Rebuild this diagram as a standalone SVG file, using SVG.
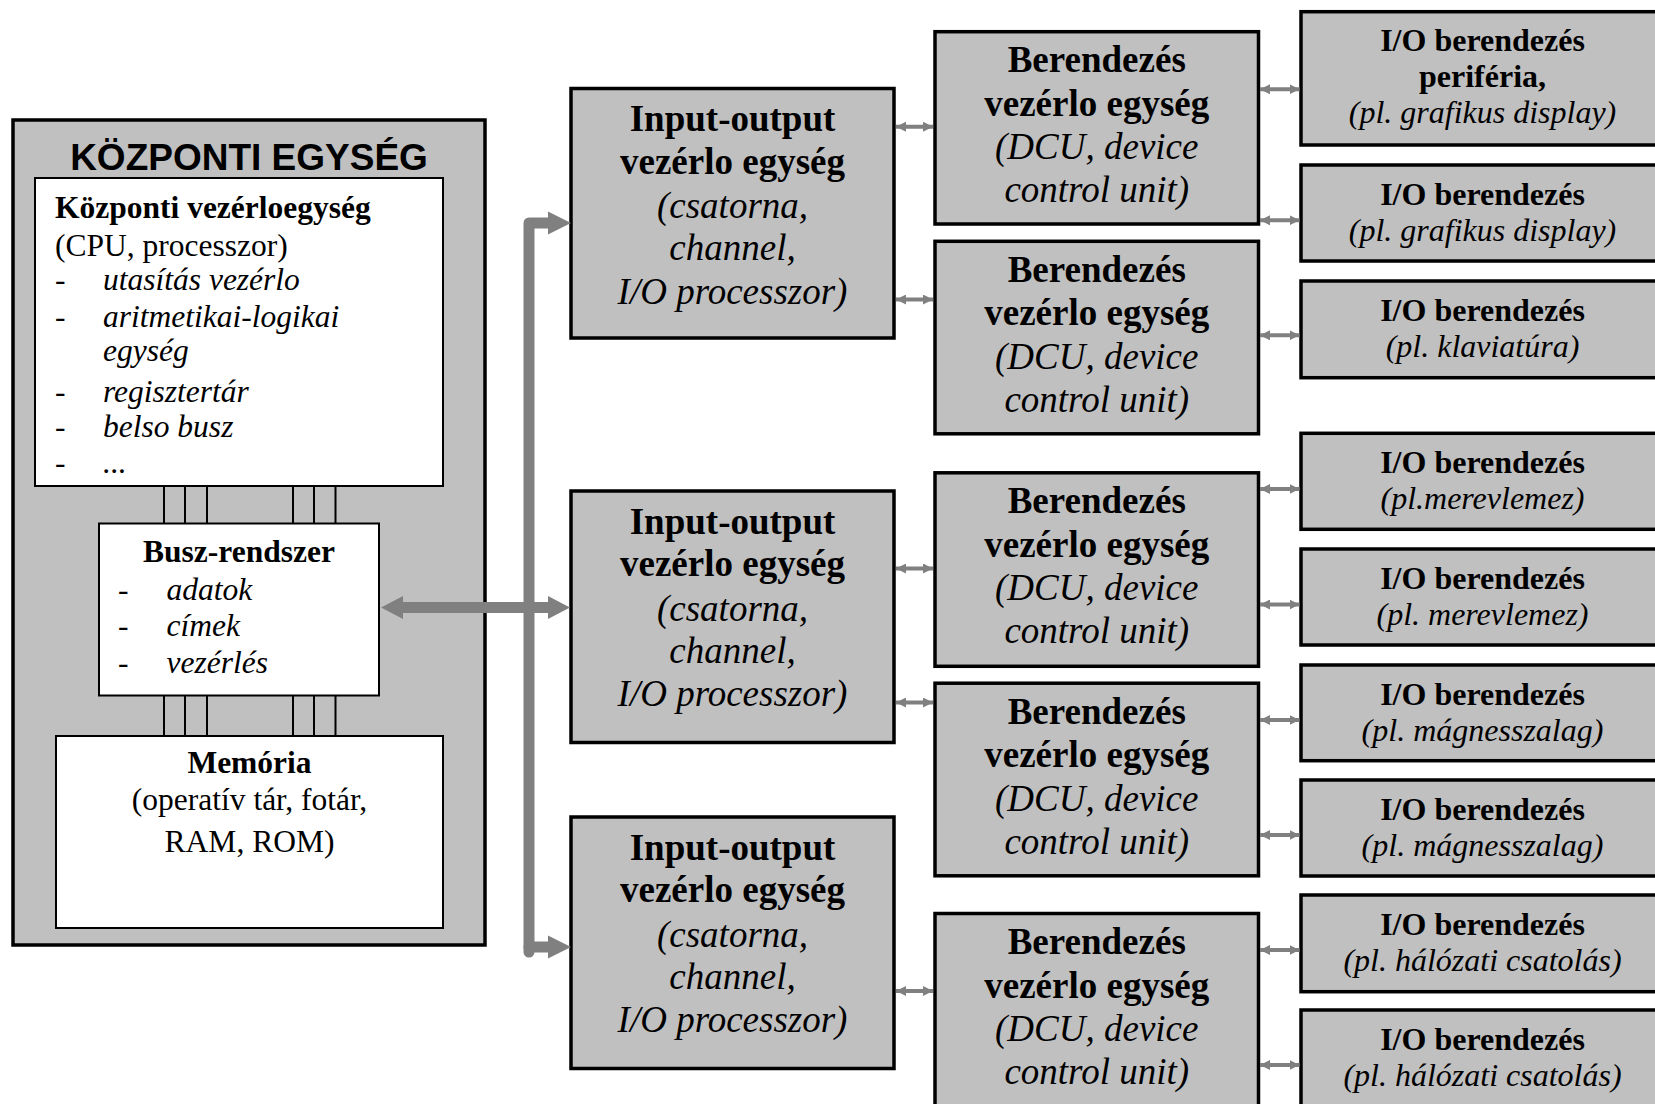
<svg xmlns="http://www.w3.org/2000/svg" width="1655" height="1104" viewBox="0 0 1655 1104">
<style>
.frame{fill:#c0c0c0;stroke:#000;stroke-width:3.5}
.box{fill:#c0c0c0;stroke:#000;stroke-width:3.5}
.wbox{fill:#fff;stroke:#000;stroke-width:2}
.t{font-family:"Liberation Serif","Times New Roman",serif;fill:#000}
.b{font-weight:bold}
.i{font-style:italic}
.L{font-size:31.5px}
.M{font-size:37px}
.R{font-size:32px}
.c{text-anchor:middle}
.title{font-family:"Liberation Sans",Arial,sans-serif;font-weight:bold;font-size:37px;text-anchor:middle;fill:#000}
.bus{stroke:#000;stroke-width:2;fill:none}
.big{stroke:#808080;stroke-width:11;fill:none;stroke-linejoin:round;stroke-linecap:round}
.head{fill:#808080}
.sm{stroke:#808080;stroke-width:4;fill:none;marker-start:url(#ah);marker-end:url(#ah)}
</style>
<defs>
<marker id="ah" viewBox="0 0 10 10" refX="10" refY="5" markerWidth="10" markerHeight="10" markerUnits="userSpaceOnUse" orient="auto-start-reverse">
<path d="M0,0 L10,5 L0,10 z" fill="#808080"/>
</marker>
</defs>

<g id="kozponti-egyseg">
<rect class="frame" x="13" y="120" width="472" height="825"/>
<text class="title" x="249" y="170">KÖZPONTI EGYSÉG</text>
</g>

<g id="cpu">
<rect class="wbox" x="35" y="178" width="408" height="308"/>
<text class="t L b" x="55" y="218">Központi vezérloegység</text>
<text class="t L" x="55" y="256">(CPU, processzor)</text>
<text class="t L" x="55" y="290">-</text><text class="t L i" x="103" y="290">utasítás vezérlo</text>
<text class="t L" x="55" y="327">-</text><text class="t L i" x="103" y="327">aritmetikai-logikai</text>
<text class="t L i" x="103" y="361">egység</text>
<text class="t L" x="55" y="402">-</text><text class="t L i" x="103" y="402">regisztertár</text>
<text class="t L" x="55" y="437">-</text><text class="t L i" x="103" y="437">belso busz</text>
<text class="t L" x="55" y="473">-</text><text class="t L i" x="103" y="473">...</text>
</g>

<g id="busz-rendszer">
<rect class="wbox" x="99" y="523.5" width="280" height="172"/>
<text class="t L b c" x="239" y="561.5">Busz-rendszer</text>
<text class="t L" x="118" y="600">-</text><text class="t L i" x="166.5" y="600">adatok</text>
<text class="t L" x="118" y="636">-</text><text class="t L i" x="166.5" y="636">címek</text>
<text class="t L" x="118" y="673">-</text><text class="t L i" x="166.5" y="673">vezérlés</text>
</g>

<g id="memoria">
<rect class="wbox" x="56" y="736" width="387" height="192"/>
<text class="t L b c" x="249.5" y="773">Memória</text>
<text class="t L c" x="249.5" y="810">(operatív tár, fotár,</text>
<text class="t L c" x="249.5" y="851.5">RAM, ROM)</text>
</g>

<g id="io1">
<rect class="box" x="571" y="88.5" width="323" height="249.5"/>
<text class="t M b c" x="732.5" y="131">Input-output</text>
<text class="t M b c" x="732.5" y="173.8">vezérlo egység</text>
<text class="t M i c" x="732.5" y="218">(csatorna,</text>
<text class="t M i c" x="732.5" y="260.3">channel,</text>
<text class="t M i c" x="732.5" y="303.5">I/O processzor)</text>
</g>
<g id="io2">
<rect class="box" x="571" y="491" width="323" height="251.5"/>
<text class="t M b c" x="732.5" y="533.5">Input-output</text>
<text class="t M b c" x="732.5" y="576.3">vezérlo egység</text>
<text class="t M i c" x="732.5" y="620.5">(csatorna,</text>
<text class="t M i c" x="732.5" y="662.8">channel,</text>
<text class="t M i c" x="732.5" y="706">I/O processzor)</text>
</g>
<g id="io3">
<rect class="box" x="571" y="817" width="323" height="251.5"/>
<text class="t M b c" x="732.5" y="859.5">Input-output</text>
<text class="t M b c" x="732.5" y="902.3">vezérlo egység</text>
<text class="t M i c" x="732.5" y="946.5">(csatorna,</text>
<text class="t M i c" x="732.5" y="988.8">channel,</text>
<text class="t M i c" x="732.5" y="1032">I/O processzor)</text>
</g>

<g id="dcu1">
<rect class="box" x="935" y="31.7" width="323.5" height="192.3"/>
<text class="t M b c" x="1096.75" y="72.2">Berendezés</text>
<text class="t M b c" x="1096.75" y="115.7">vezérlo egység</text>
<text class="t M i c" x="1096.75" y="159.2">(DCU, device</text>
<text class="t M i c" x="1096.75" y="202.2">control unit)</text>
</g>
<g id="dcu2">
<rect class="box" x="935" y="241.3" width="323.5" height="192.5"/>
<text class="t M b c" x="1096.75" y="281.8">Berendezés</text>
<text class="t M b c" x="1096.75" y="325.3">vezérlo egység</text>
<text class="t M i c" x="1096.75" y="368.8">(DCU, device</text>
<text class="t M i c" x="1096.75" y="411.8">control unit)</text>
</g>
<g id="dcu3">
<rect class="box" x="935" y="472.8" width="323.5" height="193.5"/>
<text class="t M b c" x="1096.75" y="513.3">Berendezés</text>
<text class="t M b c" x="1096.75" y="556.8">vezérlo egység</text>
<text class="t M i c" x="1096.75" y="600.3">(DCU, device</text>
<text class="t M i c" x="1096.75" y="643.3">control unit)</text>
</g>
<g id="dcu4">
<rect class="box" x="935" y="683.2" width="323.5" height="192.6"/>
<text class="t M b c" x="1096.75" y="723.7">Berendezés</text>
<text class="t M b c" x="1096.75" y="767.2">vezérlo egység</text>
<text class="t M i c" x="1096.75" y="810.7">(DCU, device</text>
<text class="t M i c" x="1096.75" y="853.7">control unit)</text>
</g>
<g id="dcu5">
<rect class="box" x="935" y="913.5" width="323.5" height="193"/>
<text class="t M b c" x="1096.75" y="954">Berendezés</text>
<text class="t M b c" x="1096.75" y="997.5">vezérlo egység</text>
<text class="t M i c" x="1096.75" y="1041">(DCU, device</text>
<text class="t M i c" x="1096.75" y="1084">control unit)</text>
</g>

<g id="io-dev1">
<rect class="box" x="1301" y="11.7" width="400" height="133.3"/>
<text class="t R b c" x="1482.5" y="51">I/O berendezés</text>
<text class="t R b c" x="1482.5" y="87">periféria,</text>
<text class="t R i c" x="1482.5" y="123">(pl. grafikus display)</text>
</g>
<g id="io-dev2">
<rect class="box" x="1301" y="165" width="400" height="96"/>
<text class="t R b c" x="1482.5" y="205">I/O berendezés</text>
<text class="t R i c" x="1482.5" y="241">(pl. grafikus display)</text>
</g>
<g id="io-dev3">
<rect class="box" x="1301" y="281" width="400" height="96.7"/>
<text class="t R b c" x="1482.5" y="321">I/O berendezés</text>
<text class="t R i c" x="1482.5" y="357">(pl. klaviatúra)</text>
</g>
<g id="io-dev4">
<rect class="box" x="1301" y="433.3" width="400" height="96"/>
<text class="t R b c" x="1482.5" y="473.3">I/O berendezés</text>
<text class="t R i c" x="1482.5" y="509.3">(pl.merevlemez)</text>
</g>
<g id="io-dev5">
<rect class="box" x="1301" y="549" width="400" height="96"/>
<text class="t R b c" x="1482.5" y="589">I/O berendezés</text>
<text class="t R i c" x="1482.5" y="625">(pl. merevlemez)</text>
</g>
<g id="io-dev6">
<rect class="box" x="1301" y="665" width="400" height="95.7"/>
<text class="t R b c" x="1482.5" y="705">I/O berendezés</text>
<text class="t R i c" x="1482.5" y="741">(pl. mágnesszalag)</text>
</g>
<g id="io-dev7">
<rect class="box" x="1301" y="780" width="400" height="96"/>
<text class="t R b c" x="1482.5" y="820">I/O berendezés</text>
<text class="t R i c" x="1482.5" y="856">(pl. mágnesszalag)</text>
</g>
<g id="io-dev8">
<rect class="box" x="1301" y="895" width="400" height="96.7"/>
<text class="t R b c" x="1482.5" y="935">I/O berendezés</text>
<text class="t R i c" x="1482.5" y="971">(pl. hálózati csatolás)</text>
</g>
<g id="io-dev9">
<rect class="box" x="1301" y="1010" width="400" height="96"/>
<text class="t R b c" x="1482.5" y="1050">I/O berendezés</text>
<text class="t R i c" x="1482.5" y="1086">(pl. hálózati csatolás)</text>
</g>

<g id="connectors">
<path class="bus" d="M164,486V523.5M185,486V523.5M207,486V523.5M293,486V523.5M314,486V523.5M335.5,486V523.5"/>
<path class="bus" d="M164,695.5V736M185,695.5V736M207,695.5V736M293,695.5V736M314,695.5V736M335.5,695.5V736"/>
<path class="big" d="M529,952V223H550"/>
<polygon class="head" points="571,223 548,211.5 548,234.5"/>
<path class="big" d="M529,947H550"/>
<polygon class="head" points="571,947 548,935.5 548,958.5"/>
<path class="big" d="M400,607.5H550"/>
<polygon class="head" points="381,607.5 403,596 403,619"/>
<polygon class="head" points="570,607.5 548,596 548,619"/>
<line class="sm" x1="896" y1="126.7" x2="933" y2="126.7"/>
<line class="sm" x1="896" y1="299.5" x2="933" y2="299.5"/>
<line class="sm" x1="896" y1="568.5" x2="933" y2="568.5"/>
<line class="sm" x1="896" y1="702.5" x2="933" y2="702.5"/>
<line class="sm" x1="896" y1="991" x2="933" y2="991"/>
<line class="sm" x1="1260" y1="89.3" x2="1299.5" y2="89.3"/>
<line class="sm" x1="1260" y1="220.3" x2="1299.5" y2="220.3"/>
<line class="sm" x1="1260" y1="335.3" x2="1299.5" y2="335.3"/>
<line class="sm" x1="1260" y1="489" x2="1299.5" y2="489"/>
<line class="sm" x1="1260" y1="604.5" x2="1299.5" y2="604.5"/>
<line class="sm" x1="1260" y1="720" x2="1299.5" y2="720"/>
<line class="sm" x1="1260" y1="835" x2="1299.5" y2="835"/>
<line class="sm" x1="1260" y1="950" x2="1299.5" y2="950"/>
<line class="sm" x1="1260" y1="1065" x2="1299.5" y2="1065"/>
</g>
</svg>
